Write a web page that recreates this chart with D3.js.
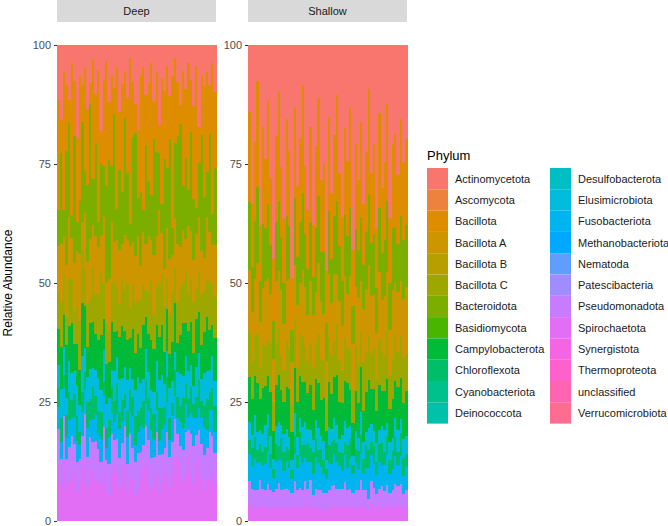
<!DOCTYPE html>
<html>
<head>
<meta charset="utf-8">
<script src="https://cdn.jsdelivr.net/npm/d3@7"></script>
<style>
  body { margin: 0; background: #fff; }
  text { font-family: "Liberation Sans", Arial, sans-serif; }
</style>
</head>
<body>
<div id="chart"></div>
<script>
/* global d3 */

// legend levels (factor order)
var phyla = ['Actinomycetota', 'Ascomycota', 'Bacillota', 'Bacillota A', 'Bacillota B',
    'Bacillota C', 'Bacteroidota', 'Basidiomycota', 'Campylobacterota', 'Chloroflexota',
    'Cyanobacteriota', 'Deinococcota', 'Desulfobacterota', 'Elusimicrobiota', 'Fusobacteriota',
    'Methanobacteriota', 'Nematoda', 'Patescibacteria', 'Pseudomonadota', 'Spirochaetota',
    'Synergistota', 'Thermoproteota', 'unclassified', 'Verrucomicrobiota'];

// order of the segments inside one bar, top to bottom (rows are stacked as they come)
var stackOrder = ['Actinomycetota', 'Bacillota', 'Bacteroidota', 'Bacillota A', 'Bacillota C',
    'Campylobacterota', 'Elusimicrobiota', 'Chloroflexota', 'Fusobacteriota',
    'Pseudomonadota', 'Spirochaetota'];

var panels = ['Deep', 'Shallow'];
var yTicks = [0, 25, 50, 75, 100];

// Deep samples
var deepActino = [12,18,6,9,14,4,8,22,7,10,5,15,9,3,11,6,19,8,4,13,7,10,5,16,9,6,12,3,8,14,20,7,5,11,9,4,13,6,17,8,10,5,12,7,3,9,15,6,11,4,8,13,5,18,7,10,6,9,4,11];
var deepBacillota = [24,8,30,15,6,34,12,20,28,9,22,18,5,26,11,36,7,19,31,13,21,6,33,14,25,10,17,38,12,7,16,27,32,11,23,29,9,18,6,30,15,24,10,35,19,13,5,26,17,28,12,20,33,8,14,27,22,11,34,18];
var deepBacteroid = [8,22,6,26,24,5,28,7,12,25,9,18,32,10,21,6,16,11,24,27,13,30,7,19,12,26,15,5,23,29,9,17,5,22,13,10,27,19,12,7,24,14,28,6,17,26,31,10,20,8,23,13,6,12,27,15,10,22,7,18];
var deepBacillotaA = [10,14,8,12,16,9,11,13,15,7,12,10,14,9,13,11,8,15,10,12,14,9,11,13,8,12,10,14,9,11,15,8,12,10,13,9,14,11,16,10,8,12,13,9,11,14,10,12,8,15,11,9,13,12,10,8,14,11,9,12];
var deepBacillotaC = [8,11,9,6,12,10,7,9,11,13,8,10,6,12,9,11,14,8,10,7,9,12,10,8,11,9,13,7,10,12,8,11,9,6,10,13,8,9,11,12,10,7,9,11,8,10,12,9,13,8,10,11,7,9,12,10,8,11,9,10];
var deepCampylo = [8,10,7,12,9,11,6,10,8,13,9,7,11,10,8,9,12,7,10,8,11,9,6,10,12,8,9,7,11,9,10,8,12,7,9,11,10,8,9,12,7,10,8,9,11,7,10,12,8,9,10,7,11,9,8,10,12,9,7,10];
var deepElusimicro = [5,7,6,4,8,6,5,7,6,9,5,6,7,4,6,8,5,7,6,5,4,7,6,8,5,6,7,5,4,6,8,6,5,7,6,4,5,7,6,8,5,6,7,5,4,6,8,5,7,6,5,4,7,6,5,8,6,5,7,6];
var deepChloro = [4,6,3,5,7,4,5,6,3,5,4,6,5,7,4,5,6,3,5,4,6,5,7,4,5,3,6,5,4,7,5,4,6,5,3,5,6,4,7,5,4,6,5,3,6,5,4,7,5,4,6,3,5,6,4,5,7,4,5,6];
var deepFuso = [5,4,6,5,7,4,6,5,3,6,5,7,4,5,6,4,5,7,3,6,5,4,6,7,5,4,6,5,7,4,5,6,4,5,7,6,4,5,3,6,5,7,4,6,5,4,6,5,7,3,5,6,4,5,6,7,4,5,6,5];
var deepPseudo = [8,6,10,7,9,8,6,7,5,9,10,7,8,6,9,7,5,10,8,7,9,6,8,7,9,8,6,10,7,8,9,7,5,8,10,7,6,9,8,7,6,10,7,8,9,6,8,7,10,5,9,8,7,6,8,9,7,10,8,7];
var deepSpiro = [12,9,13,7,10,11,11,7,9,12,13,8,12,11,9,10,8,11,7,6,11,13,11,8,9,13,7,10,9,6,7,9,12,13,9,7,9,11,6,9,10,11,8,10,14,15,11,9,12,15,11,8,13,14,10,7,9,10,11,9];

// Shallow samples
var shallowActino = [15,35,22,8,40,18,26,12,30,45,20,10,28,38,16,24,50,14,32,20,9,27,36,18,42,22,12,30,25,48,16,34,20,11,28,38,19,26,14,44,22,31,17,36,24,10,29,21,40,15,33,27,13,37,23,19,30,16,26,21];
var shallowBacillota = [20,14,18,24,12,21,16,22,15,13,19,23,16,14,21,17,11,20,16,18,24,15,13,21,12,18,22,16,19,11,21,15,18,23,16,14,20,17,22,12,19,16,21,14,18,24,16,19,13,21,15,18,22,14,19,20,16,21,17,19];
var shallowBacteroid = [15,10,13,17,9,14,12,16,11,8,13,15,12,9,14,12,7,15,11,13,17,12,10,13,9,14,15,11,13,8,14,10,13,16,12,10,14,13,15,8,13,11,14,10,13,16,12,13,10,14,11,13,16,10,14,12,11,14,13,14];
var shallowBacillotaA = [14,11,13,16,10,12,15,13,11,9,14,12,15,10,13,16,9,12,14,11,15,13,10,14,12,11,16,13,10,9,14,12,15,11,13,10,14,12,16,10,13,15,11,12,14,16,13,11,10,15,12,14,13,10,16,11,14,12,13,15];
var shallowBacillotaC = [10,8,9,11,7,10,9,8,11,6,9,10,8,7,10,9,6,11,8,9,10,8,7,9,10,8,11,9,8,6,10,9,8,11,9,7,10,8,9,7,10,9,8,11,9,10,8,9,7,10,9,8,11,7,9,10,8,9,10,8];
var shallowCampylo = [10,8,9,11,7,10,9,8,10,6,9,10,8,7,9,11,6,10,8,9,10,9,8,10,7,9,10,8,9,6,10,8,9,11,8,7,9,10,8,7,9,8,10,7,9,11,8,9,7,10,8,9,10,7,9,8,10,9,8,10];
var shallowElusimicro = [4,3,5,4,3,4,5,3,4,2,4,5,3,4,4,3,2,5,4,3,4,5,3,4,3,4,5,3,4,2,4,3,5,4,3,4,5,4,3,2,4,3,5,4,3,5,4,3,4,3,4,5,3,4,3,4,5,3,4,4];
var shallowChloro = [3,4,5,3,4,3,4,5,3,2,4,3,5,4,3,4,2,4,3,5,4,3,4,3,5,4,3,4,3,2,4,5,3,4,3,4,3,5,4,2,3,4,4,3,5,4,3,4,3,4,5,3,4,3,4,4,3,5,4,3];
var shallowFuso = [6,5,7,6,4,5,6,7,5,3,6,5,7,4,6,5,3,6,5,7,6,5,6,4,5,7,6,5,4,3,6,5,7,6,5,4,6,5,7,4,6,5,6,4,5,7,6,5,4,6,5,6,7,4,5,6,5,6,4,5];
var shallowPseudo = [5,4,4,4,5,4,4,5,4,3,4,5,4,4,4,4,3,5,4,4,4,5,4,5,3,4,4,4,4,3,4,5,4,4,4,4,5,4,4,3,4,4,5,4,4,3,5,4,3,4,5,4,4,3,4,5,4,5,3,4];
var shallowSpiro = [4,3,3,3,4,3,3,3,3,3,3,3,3,3,3,3,3,4,3,3,3,4,3,4,3,3,3,3,2,3,3,3,4,3,3,3,4,3,3,3,3,3,4,3,3,2,4,3,3,3,3,3,4,3,3,3,4,3,3,3];

var panelSeries = {
    Deep: {
        'Actinomycetota': deepActino, 'Bacillota': deepBacillota, 'Bacteroidota': deepBacteroid,
        'Bacillota A': deepBacillotaA, 'Bacillota C': deepBacillotaC,
        'Campylobacterota': deepCampylo, 'Elusimicrobiota': deepElusimicro,
        'Chloroflexota': deepChloro, 'Fusobacteriota': deepFuso,
        'Pseudomonadota': deepPseudo, 'Spirochaetota': deepSpiro
    },
    Shallow: {
        'Actinomycetota': shallowActino, 'Bacillota': shallowBacillota, 'Bacteroidota': shallowBacteroid,
        'Bacillota A': shallowBacillotaA, 'Bacillota C': shallowBacillotaC,
        'Campylobacterota': shallowCampylo, 'Elusimicrobiota': shallowElusimicro,
        'Chloroflexota': shallowChloro, 'Fusobacteriota': shallowFuso,
        'Pseudomonadota': shallowPseudo, 'Spirochaetota': shallowSpiro
    }
};

// ggplot hue palette: polar LUV (h, c=100, l=65) -> sRGB
function hclLuv(h, c, l) {
    var Xn = 95.047, Yn = 100, Zn = 108.883;
    var u = c * Math.cos(h * Math.PI / 180), v = c * Math.sin(h * Math.PI / 180);
    var Y = l > 8 ? Yn * Math.pow((l + 16) / 116, 3) : Yn * l / 903.3;
    var d = Xn + 15 * Yn + 3 * Zn;
    var up = u / (13 * l) + 4 * Xn / d, vp = v / (13 * l) + 9 * Yn / d;
    var X = 9 * Y * up / (4 * vp);
    var Z = -X / 3 - 5 * Y + 3 * Y / vp;
    X /= 100; Y /= 100; Z /= 100;
    var rgb = [3.240479 * X - 1.537150 * Y - 0.498535 * Z,
        -0.969256 * X + 1.875992 * Y + 0.041556 * Z,
        0.055648 * X - 0.204043 * Y + 1.057311 * Z].map(function (t) {
        t = t <= 0.0031308 ? 12.92 * t : 1.055 * Math.pow(t, 1 / 2.4) - 0.055;
        return Math.round(Math.max(0, Math.min(1, t)) * 255);
    });
    return d3.rgb(rgb[0], rgb[1], rgb[2]).formatHex();
}
var color = d3.scaleOrdinal()
        .domain(phyla)
        .range(phyla.map(function (p, i) { return hclLuv(15 + 15 * i, 100, 65); }));

var width = 668, height = 526;
var svg = d3.select('#chart').append('svg')
        .attr('width', width)
        .attr('height', height);

var y = d3.scaleLinear().domain([0, 100]).range([521, 45]);
var panelX = {Deep: [57, 216], Shallow: [248, 407]};

// d3 stacks the first key at the bottom
var stackKeys = stackOrder.slice().reverse();

panels.forEach(function (panel) {
    var series = panelSeries[panel];
    var n = series['Actinomycetota'].length;
    var rows = d3.range(n).map(function (i) {
        var row = {id: i}, total = 0;
        stackOrder.forEach(function (p) {
            row[p] = series[p][i];
            total += row[p];
        });
        // relative abundance in percent
        stackOrder.forEach(function (p) { row[p] = row[p] / total * 100; });
        return row;
    });

    var x = d3.scaleBand()
            .domain(d3.range(n))
            .range(panelX[panel])
            .padding(0);

    var stacked = d3.stack().keys(stackKeys)(rows);

    var g = svg.append('g').attr('class', 'panel');

    // strip
    g.append('rect')
            .attr('x', panelX[panel][0])
            .attr('y', 0)
            .attr('width', panelX[panel][1] - panelX[panel][0])
            .attr('height', 22)
            .attr('fill', '#d9d9d9');
    g.append('text')
            .attr('x', (panelX[panel][0] + panelX[panel][1]) / 2)
            .attr('y', 15)
            .attr('text-anchor', 'middle')
            .attr('font-size', 11)
            .attr('fill', '#1a1a1a')
            .text(panel);

    g.selectAll('g.layer')
            .data(stacked)
            .enter()
            .append('g')
            .attr('class', 'layer')
            .attr('fill', function (d) { return color(d.key); })
            .attr('shape-rendering', 'crispEdges')
            .selectAll('rect')
            .data(function (d) { return d; })
            .enter()
            .append('rect')
            .attr('x', function (d) { return x(d.data.id); })
            .attr('width', x.bandwidth() + 0.5)
            .attr('y', function (d) { return y(d[1]); })
            .attr('height', function (d) { return Math.max(0, y(d[0]) - y(d[1])); });

    // y axis per panel
    var axis = g.append('g')
            .attr('transform', 'translate(' + panelX[panel][0] + ',0)')
            .call(d3.axisLeft(y).tickValues(yTicks).tickSize(3).tickPadding(3));
    axis.select('.domain').remove();
    axis.selectAll('line').attr('stroke', '#333').attr('stroke-width', 1);
    axis.selectAll('text')
            .attr('font-size', 11)
            .attr('fill', '#4d4d4d')
            .attr('dy', '0.3em')
            .style('font-family', '"Liberation Sans", Arial, sans-serif');
});

svg.append('text')
        .attr('transform', 'translate(12,283) rotate(-90)')
        .attr('text-anchor', 'middle')
        .attr('font-size', 12)
        .attr('fill', '#000')
        .text('Relative Abundance');

// legend
var legend = svg.append('g').attr('transform', 'translate(427,0)');
legend.append('text')
        .attr('x', 0)
        .attr('y', 160)
        .attr('font-size', 13)
        .attr('fill', '#000')
        .text('Phylum');

var keyH = 21.3;
var items = legend.selectAll('g.item')
        .data(phyla)
        .enter()
        .append('g')
        .attr('class', 'item')
        .attr('transform', function (d, i) {
            var col = Math.floor(i / 12), row = i % 12;
            return 'translate(' + (col * 123) + ',' + (168 + row * keyH) + ')';
        });
items.append('rect')
        .attr('width', 21)
        .attr('height', keyH)
        .attr('fill', function (d) { return color(d); });
items.append('text')
        .attr('x', 28)
        .attr('y', keyH / 2 + 4)
        .attr('font-size', 11)
        .attr('fill', '#1a1a1a')
        .text(function (d) { return d; });
</script>
</body>
</html>
